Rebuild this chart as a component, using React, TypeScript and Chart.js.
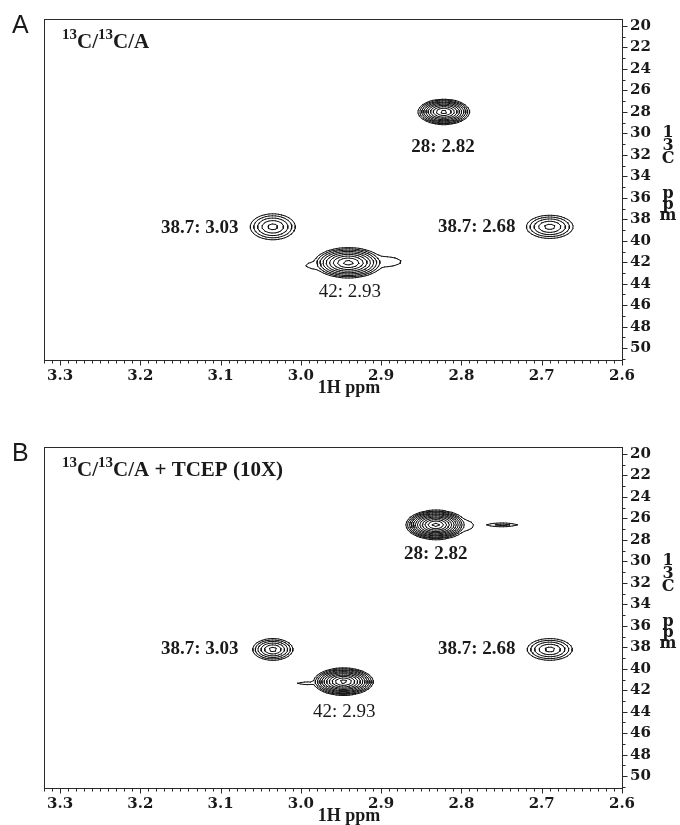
import React, { useEffect, useRef } from "react";
import { Chart, registerables } from "chart.js";
Chart.register(...registerables);

// ---- shared axes ----
const X_MIN = 2.6;
const X_MAX = 3.32;
const Y_MIN = 19.35;
const Y_MAX = 51.1;
const xTickValues = [3.3, 3.2, 3.1, 3.0, 2.9, 2.8, 2.7, 2.6];
const yTickValues = [20, 22, 24, 26, 28, 30, 32, 34, 36, 38, 40, 42, 44, 46, 48, 50];
const xMinorStep = 0.01;
const yMinorStep = 1;
const xAxisTitle = "1H ppm";
const xAxisTitlePos = 2.94;
const yAxisTitleChars = ["1", "3", "C", "p", "p", "m"];
const yAxisTitleOffsets = [118, 131, 144, 179, 190, 201];

// contour model: nested levels, ratio between levels
const LEVEL_RATIO = 1.4;
const PEAK_SHAPE = 1.5;
const UNION_POWER = 8;
const GRID_DX = 0.004;
const GRID_DY = 0.25;

// ---- Panel A ----
const panelLetterA = "A";
const titlePartsA = ["^13", "C/", "^13", "C/A"];
const peakXA = [2.822, 3.035, 2.941, 2.902, 2.978, 2.690];
const peakYA = [28.0, 38.7, 42.05, 41.95, 42.3, 38.7];
const peakHwXA = [0.032, 0.028, 0.042, 0.027, 0.016, 0.029];
const peakHwYA = [1.17, 1.2, 1.4, 0.5, 0.35, 1.07];
const peakRingsA = [10, 5, 9, 1, 1, 5];
const labelTextA = ["28: 2.82", "38.7: 3.03", "38.7: 2.68", "42: 2.93"];
const labelXA = [2.823, 3.126, 2.781, 2.939];
const labelYA = [31.3, 38.8, 38.7, 44.8];
const labelBoldA = [true, true, true, false];

// ---- Panel B ----
const panelLetterB = "B";
const titlePartsB = ["^13", "C/", "^13", "C/A + TCEP (10X)"];
const peakXB = [2.832, 2.806, 2.749, 3.035, 2.947, 2.992, 2.690];
const peakYB = [26.6, 26.65, 26.6, 38.2, 41.2, 41.35, 38.2];
const peakHwXB = [0.037, 0.021, 0.019, 0.025, 0.037, 0.012, 0.028];
const peakHwYB = [1.35, 0.6, 0.18, 1.0, 1.26, 0.15, 1.0];
const peakRingsB = [12, 1, 2, 6, 11, 1, 5];
const labelTextB = ["28: 2.82", "38.7: 3.03", "38.7: 2.68", "42: 2.93"];
const labelXB = [2.832, 3.126, 2.781, 2.946];
const labelYB = [29.3, 38.2, 38.2, 44.0];
const labelBoldB = [true, true, true, false];

const TEXT = "#1a1a1a";
const SERIF = '"Liberation Serif", "Times New Roman", serif';
const DSERIF = '"DejaVu Serif", serif';

const TABLE: number[][][] = [
  [], [[3, 0]], [[0, 1]], [[3, 1]], [[1, 2]], [[3, 0], [1, 2]], [[0, 2]], [[3, 2]],
  [[2, 3]], [[0, 2]], [[0, 1], [2, 3]], [[1, 2]], [[1, 3]], [[0, 1]], [[0, 3]], [],
];

function contourPoints(px: number[], py: number[], hwx: number[], hwy: number[], rings: number[]) {
  const comps = px.map((cx, i) => {
    const A = Math.pow(LEVEL_RATIO, rings[i] - 0.5);
    const s = Math.pow(Math.log(A), 1 / PEAK_SHAPE);
    return { cx, cy: py[i], sx: hwx[i] / s, sy: hwy[i] / s, A };
  });
  const nx = Math.round((X_MAX - X_MIN) / GRID_DX) + 1;
  const ny = Math.round((Y_MAX - Y_MIN) / GRID_DY) + 1;
  const gx = (i: number) => X_MIN + i * GRID_DX;
  const gy = (j: number) => Y_MIN + j * GRID_DY;
  const f = new Float64Array(nx * ny);
  for (let j = 0; j < ny; j++) {
    for (let i = 0; i < nx; i++) {
      const x = gx(i), y = gy(j);
      let s = 0;
      for (const c of comps) {
        const dx = (x - c.cx) / c.sx, dy = (y - c.cy) / c.sy;
        const r = Math.sqrt(dx * dx + dy * dy);
        const v = c.A * Math.exp(-Math.pow(r, PEAK_SHAPE));
        s += Math.pow(v, UNION_POWER);
      }
      f[j * nx + i] = Math.pow(s, 1 / UNION_POWER);
    }
  }
  const maxRings = Math.max(...rings);
  const pts: any[] = [];
  for (let k = 0; k < maxRings; k++) {
    const L = Math.pow(LEVEL_RATIO, k);
    for (let j = 0; j < ny - 1; j++) {
      for (let i = 0; i < nx - 1; i++) {
        const v0 = f[j * nx + i], v1 = f[j * nx + i + 1];
        const v2 = f[(j + 1) * nx + i + 1], v3 = f[(j + 1) * nx + i];
        let c = 0;
        if (v0 > L) c |= 1;
        if (v1 > L) c |= 2;
        if (v2 > L) c |= 4;
        if (v3 > L) c |= 8;
        if (c === 0 || c === 15) continue;
        const x0 = gx(i), x1 = gx(i + 1), y0 = gy(j), y1 = gy(j + 1);
        const e = (n: number) => {
          if (n === 0) { const t = (L - v0) / (v1 - v0); return { x: x0 + t * (x1 - x0), y: y0 }; }
          if (n === 1) { const t = (L - v1) / (v2 - v1); return { x: x1, y: y0 + t * (y1 - y0) }; }
          if (n === 2) { const t = (L - v3) / (v2 - v3); return { x: x0 + t * (x1 - x0), y: y1 }; }
          const t = (L - v0) / (v3 - v0); return { x: x0, y: y0 + t * (y1 - y0) };
        };
        for (const [a, b] of TABLE[c]) {
          pts.push(e(a), e(b), { x: null, y: null });
        }
      }
    }
  }
  return pts;
}

type PanelCfg = {
  letter: string;
  titleParts: string[];
  px: number[]; py: number[]; hwx: number[]; hwy: number[]; rings: number[];
  lt: string[]; lx: number[]; ly: number[]; lb: boolean[];
};

const panelA: PanelCfg = {
  letter: panelLetterA, titleParts: titlePartsA,
  px: peakXA, py: peakYA, hwx: peakHwXA, hwy: peakHwYA, rings: peakRingsA,
  lt: labelTextA, lx: labelXA, ly: labelYA, lb: labelBoldA,
};
const panelB: PanelCfg = {
  letter: panelLetterB, titleParts: titlePartsB,
  px: peakXB, py: peakYB, hwx: peakHwXB, hwy: peakHwYB, rings: peakRingsB,
  lt: labelTextB, lx: labelXB, ly: labelYB, lb: labelBoldB,
};

function decorPlugin(cfg: PanelCfg) {
  return {
    id: "decor",
    afterDraw(chart: any) {
      const ctx = chart.ctx as CanvasRenderingContext2D;
      const ca = chart.chartArea;
      const xs = chart.scales.x;
      const ys = chart.scales.y;
      const l = Math.round(ca.left), r = Math.round(ca.right), t = Math.round(ca.top), b = Math.round(ca.bottom);
      ctx.save();
      // frame
      ctx.strokeStyle = "#2a2a2a";
      ctx.lineWidth = 1;
      ctx.strokeRect(l + 0.5, t + 0.5, r - l, b - t);
      // ticks
      ctx.beginPath();
      const nX = Math.round((X_MAX - X_MIN) / xMinorStep);
      for (let i = 0; i <= nX; i++) {
        const v = X_MIN + i * xMinorStep;
        const major = xTickValues.some((tv) => Math.abs(tv - v) < 1e-6);
        const p = Math.round(xs.getPixelForValue(v)) + 0.5;
        ctx.moveTo(p, b + 0.5);
        ctx.lineTo(p, b + 0.5 + (major ? 5 : 3));
      }
      for (let v = Math.ceil(Y_MIN); v <= Y_MAX; v += yMinorStep) {
        const major = yTickValues.includes(v);
        const p = Math.round(ys.getPixelForValue(v)) + 0.5;
        ctx.moveTo(r + 0.5, p);
        ctx.lineTo(r + 0.5 + (major ? 5 : 3), p);
      }
      ctx.stroke();

      ctx.fillStyle = TEXT;
      // x-axis title
      ctx.font = `bold 18px ${SERIF}`;
      ctx.textAlign = "center";
      ctx.textBaseline = "middle";
      ctx.fillText(xAxisTitle, xs.getPixelForValue(xAxisTitlePos), b + 28);
      // y-axis title stacked letters
      ctx.font = `bold 16px ${DSERIF}`;
      ctx.textBaseline = "alphabetic";
      yAxisTitleChars.forEach((ch, i) => {
        ctx.fillText(ch, r + 46, t + yAxisTitleOffsets[i]);
      });
      // peak labels
      ctx.textBaseline = "middle";
      cfg.lt.forEach((txt, i) => {
        ctx.font = `${cfg.lb[i] ? "bold " : ""}19px ${SERIF}`;
        ctx.fillText(txt, xs.getPixelForValue(cfg.lx[i]), ys.getPixelForValue(cfg.ly[i]));
      });
      // panel title with superscripts
      ctx.textAlign = "left";
      ctx.textBaseline = "alphabetic";
      let cx = l + 18;
      const base = t + 29;
      for (const part of cfg.titleParts) {
        const sup = part.startsWith("^");
        const s = sup ? part.slice(1) : part;
        ctx.font = sup ? `bold 15px ${SERIF}` : `bold 21px ${SERIF}`;
        ctx.fillText(s, cx, sup ? base - 9 : base);
        cx += ctx.measureText(s).width;
      }
      // panel letter
      ctx.font = `25px "Liberation Sans", Arial, sans-serif`;
      ctx.fillText(cfg.letter, 12, 33);
      ctx.restore();
    },
  };
}

function Panel({ cfg, height, axisH }: { cfg: PanelCfg; height: number; axisH: number }) {
  const ref = useRef<HTMLCanvasElement | null>(null);
  useEffect(() => {
    if (!ref.current) return;
    const data = contourPoints(cfg.px, cfg.py, cfg.hwx, cfg.hwy, cfg.rings);
    const chart = new Chart(ref.current, {
      type: "scatter",
      data: {
        datasets: [
          {
            data,
            showLine: true,
            spanGaps: false,
            borderColor: "#111111",
            borderWidth: 1,
            borderCapStyle: "round",
            pointRadius: 0,
            pointHoverRadius: 0,
          } as any,
        ],
      },
      options: {
        responsive: false,
        animation: false,
        events: [],
        layout: { padding: { left: 44, top: 19, right: 0, bottom: 0 } },
        plugins: { legend: { display: false }, tooltip: { enabled: false }, title: { display: false } },
        scales: {
          x: {
            type: "linear",
            min: X_MIN,
            max: X_MAX,
            reverse: true,
            position: "bottom",
            grid: { display: false, drawTicks: false },
            border: { display: false },
            afterBuildTicks: (s: any) => { s.ticks = xTickValues.map((v) => ({ value: v })); },
            afterFit: (s: any) => { s.height = axisH; },
            ticks: {
              autoSkip: false,
              maxRotation: 0,
              padding: 7,
              color: TEXT,
              font: { family: DSERIF, size: 15, weight: "bold" },
              callback: (v: any) => Number(v).toFixed(1),
            },
          },
          y: {
            type: "linear",
            min: Y_MIN,
            max: Y_MAX,
            reverse: true,
            position: "right",
            grid: { display: false, drawTicks: false },
            border: { display: false },
            afterBuildTicks: (s: any) => { s.ticks = yTickValues.map((v) => ({ value: v })); },
            afterFit: (s: any) => { s.width = 58; },
            ticks: {
              autoSkip: false,
              padding: 8,
              color: TEXT,
              font: { family: DSERIF, size: 15, weight: "bold" },
              callback: (v: any) => String(v),
            },
          },
        },
      } as any,
      plugins: [decorPlugin(cfg)],
    });
    return () => chart.destroy();
  }, [cfg, height, axisH]);
  return <canvas ref={ref} width={680} height={height} style={{ display: "block", width: 680, height }} />;
}

export default function App() {
  return (
    <div style={{ position: "absolute", left: 0, top: 0, width: 680, height: 825, background: "#ffffff" }}>
      <Panel cfg={panelA} height={428} axisH={68} />
      <Panel cfg={panelB} height={397} axisH={37} />
    </div>
  );
}
